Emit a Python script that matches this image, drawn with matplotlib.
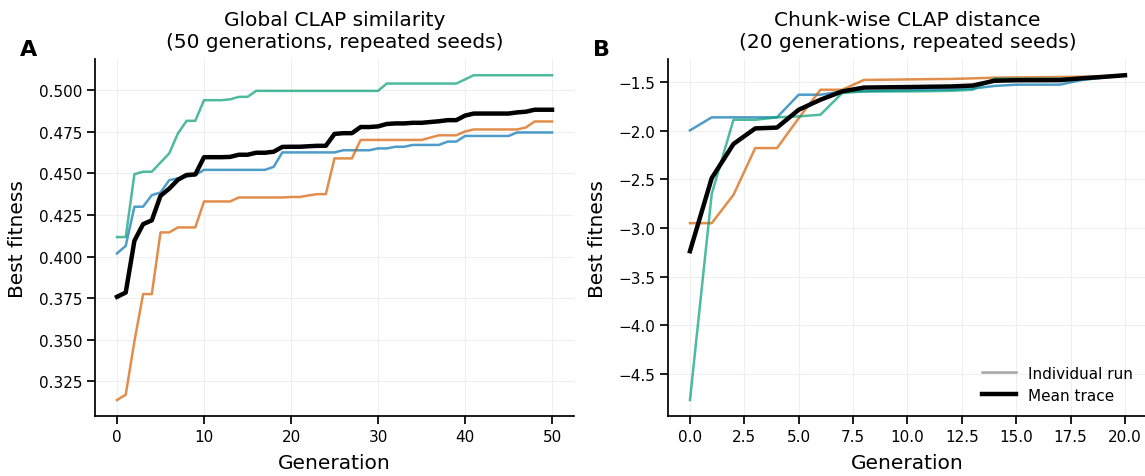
import numpy as np
import matplotlib
matplotlib.use("Agg")
import matplotlib.pyplot as plt
from matplotlib.lines import Line2D

# --- panel A: global CLAP similarity, 51 generations ---
gen_a = np.arange(51)
a_run_blue = [0.4019, 0.4064, 0.4299, 0.4300, 0.4369, 0.4385, 0.4459, 0.4470, 0.4480, 0.4490,
              0.4521, 0.4521, 0.4521, 0.4521, 0.4521, 0.4521, 0.4521, 0.4521, 0.4539, 0.4626,
              0.4626, 0.4626, 0.4626, 0.4626, 0.4626, 0.4626, 0.4639, 0.4639, 0.4639, 0.4639,
              0.4650, 0.4650, 0.4660, 0.4660, 0.4671, 0.4671, 0.4671, 0.4671, 0.4691, 0.4691,
              0.4725, 0.4725, 0.4725, 0.4725, 0.4725, 0.4725, 0.4746, 0.4746, 0.4746, 0.4746,
              0.4746]
a_run_orange = [0.3137, 0.3169, 0.3490, 0.3774, 0.3774, 0.4145, 0.4145, 0.4175, 0.4175, 0.4175,
                0.4331, 0.4331, 0.4331, 0.4331, 0.4355, 0.4355, 0.4355, 0.4355, 0.4355, 0.4355,
                0.4358, 0.4358, 0.4367, 0.4375, 0.4375, 0.4590, 0.4590, 0.4590, 0.4701, 0.4701,
                0.4701, 0.4701, 0.4701, 0.4701, 0.4701, 0.4701, 0.4715, 0.4729, 0.4729, 0.4729,
                0.4752, 0.4764, 0.4764, 0.4764, 0.4764, 0.4764, 0.4764, 0.4776, 0.4812, 0.4812,
                0.4812]
a_run_green = [0.4117, 0.4117, 0.4495, 0.4510, 0.4510, 0.4565, 0.4620, 0.4740, 0.4816, 0.4816,
               0.4940, 0.4940, 0.4940, 0.4945, 0.4960, 0.4960, 0.4996, 0.4996, 0.4996, 0.4996,
               0.4996, 0.4996, 0.4996, 0.4996, 0.4996, 0.4996, 0.4996, 0.4996, 0.4996, 0.4996,
               0.4996, 0.5040, 0.5040, 0.5040, 0.5040, 0.5040, 0.5040, 0.5040, 0.5040, 0.5040,
               0.5065, 0.5090, 0.5090, 0.5090, 0.5090, 0.5090, 0.5090, 0.5090, 0.5090, 0.5090,
               0.5090]

# --- panel B: chunk-wise CLAP distance, 21 generations ---
gen_b = np.arange(21)
b_run_blue = [-1.997, -1.863, -1.863, -1.863, -1.863, -1.630, -1.630, -1.596, -1.596, -1.590,
              -1.585, -1.580, -1.578, -1.567, -1.540, -1.527, -1.527, -1.527, -1.480, -1.455,
              -1.430]
b_run_orange = [-2.951, -2.951, -2.660, -2.179, -2.179, -1.872, -1.579, -1.579, -1.478, -1.476,
                -1.473, -1.470, -1.468, -1.462, -1.455, -1.452, -1.450, -1.448, -1.445, -1.440,
                -1.430]
b_run_green = [-4.770, -2.650, -1.888, -1.888, -1.863, -1.853, -1.836, -1.613, -1.596, -1.596,
               -1.596, -1.594, -1.590, -1.579, -1.465, -1.465, -1.465, -1.465, -1.460, -1.445,
               -1.430]

run_colors = ["#0173b2", "#d55e00", "#029e73"]

plt.rcParams["font.family"] = "DejaVu Sans"

fig = plt.figure(figsize=(11.45, 4.77), dpi=100)
ax1 = fig.add_axes([0.0832, 0.1252, 0.4179, 0.749])
ax2 = fig.add_axes([0.5836, 0.1252, 0.4179, 0.749])


def draw_panel(ax, gens, runs, title):
    for run, col in zip(runs, run_colors):
        ax.plot(gens, run, color=col, alpha=0.7, lw=1.8)
    mean = np.mean(np.array(runs), axis=0)
    ax.plot(gens, mean, color="black", lw=3.2)
    ax.set_title(title, fontsize=14.5, pad=9)
    ax.set_xlabel("Generation", fontsize=14.5, labelpad=6)
    ax.set_ylabel("Best fitness", fontsize=14.5, labelpad=8)
    ax.grid(True, color="#efefef", lw=0.8)
    ax.set_axisbelow(True)
    for side in ["top", "right"]:
        ax.spines[side].set_visible(False)
    for side in ["left", "bottom"]:
        ax.spines[side].set_linewidth(1.25)
    ax.tick_params(labelsize=11, length=6, width=1.25)


draw_panel(ax1, gen_a, [a_run_blue, a_run_orange, a_run_green],
           "Global CLAP similarity\n(50 generations, repeated seeds)")
draw_panel(ax2, gen_b, [b_run_blue, b_run_orange, b_run_green],
           "Chunk-wise CLAP distance\n(20 generations, repeated seeds)")

handles = [Line2D([], [], color="gray", alpha=0.7, lw=1.8),
           Line2D([], [], color="black", lw=3.2)]
ax2.legend(handles, ["Individual run", "Mean trace"], loc="lower right",
           frameon=False, fontsize=11, handlelength=2.2, labelspacing=0.45)

fig.text(0.017, 0.882, "A", fontsize=16, fontweight="bold")
fig.text(0.518, 0.882, "B", fontsize=16, fontweight="bold")

fig.savefig("out.png", dpi=100)
